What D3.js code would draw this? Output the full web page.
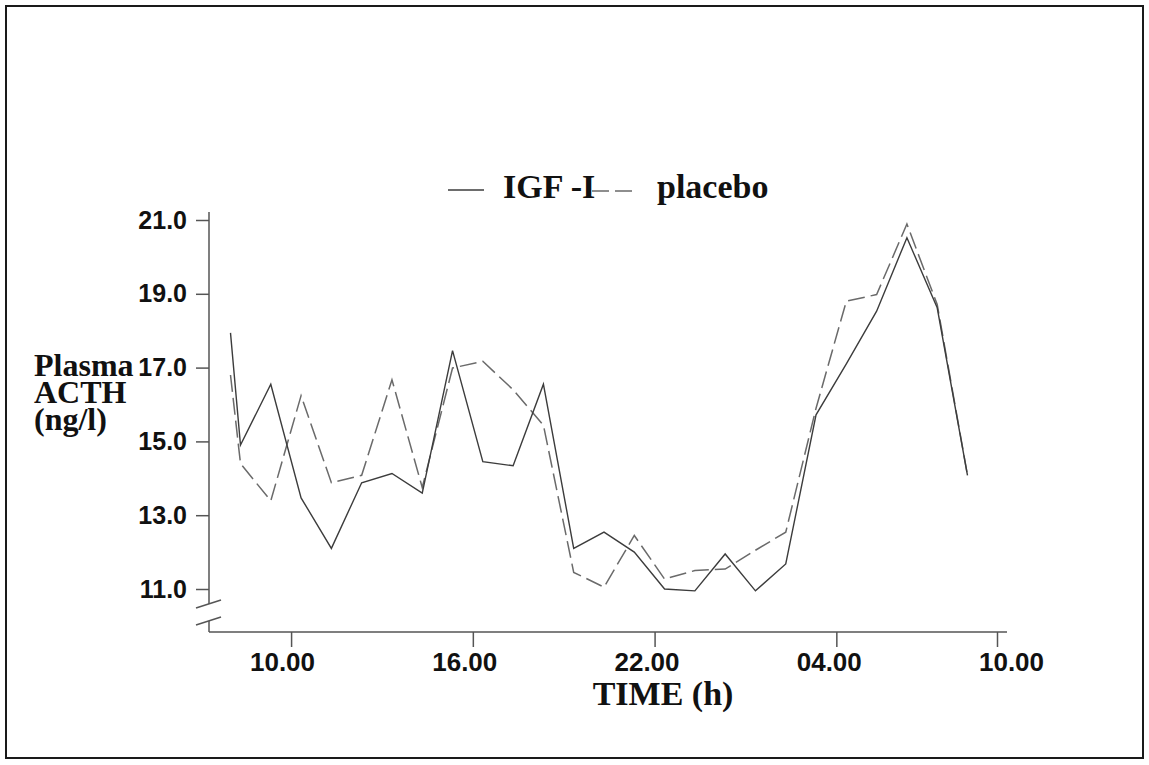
<!DOCTYPE html>
<html><head><meta charset="utf-8">
<script src="https://cdn.jsdelivr.net/npm/d3@7"></script>
<style>html,body{margin:0;padding:0;background:#fff;} svg{display:block}</style>
</head><body>
<script>
// sample times in hours (values > 24 are the next morning)
const sampleTimes = [8.0, 8.33, 9.33, 10.33, 11.33, 12.33, 13.33, 14.33, 15.33, 16.33, 17.33, 18.33, 19.33,
  20.33, 21.33, 22.33, 23.33, 24.33, 25.33, 26.33, 27.33, 28.33, 29.33, 30.33, 31.33, 32.33];
const igfValues = [17.94, 14.9, 16.55, 13.47, 12.1, 13.88, 14.13, 13.6, 17.46, 14.45, 14.34, 16.55, 12.1,
  12.54, 12.0, 11.0, 10.95, 11.95, 10.95, 11.68, 15.72, 17.1, 18.53, 20.52, 18.62, 14.08];
const placeboValues = [16.8, 14.4, 13.39, 16.24, 13.88, 14.08, 16.67, 13.75, 16.99, 17.17, 16.4, 15.44, 11.45,
  11.05, 12.45, 11.27, 11.5, 11.54, 12.05, 12.54, 15.9, 18.8, 18.98, 20.89, 18.71, 14.08];
const seriesNames = ["IGF -I", "placebo"];
const xTickValues = [10, 16, 22, 28, 34];
const xTickLabels = ["10.00", "16.00", "22.00", "04.00", "10.00"];
const yTickValues = [11, 13, 15, 17, 19, 21];
const yTitleLines = ["Plasma", "ACTH", "(ng/l)"];
const xTitle = "TIME (h)";

const W = 1149, H = 765;
const svg = d3.select("body").append("svg").attr("width", W).attr("height", H);

svg.append("rect").attr("x", 6).attr("y", 6).attr("width", 1137).attr("height", 752)
  .attr("fill", "none").attr("stroke", "#1a1a1a").attr("stroke-width", 2);

const x = d3.scaleLinear().domain([8, 32.33, 34]).range([230.5, 967.5, 997]);
// tick labels in the original sit on an evenly spaced grid, slightly off the tick marks
const xLabel = d3.scaleLinear().domain([10, 34]).range([282, 1011]);
const y = d3.scaleLinear().domain([11, 21]).range([589, 220]);
const axisX0 = 209, axisX1 = 1007, axisY0 = 632, axisYTop = 212;
const axisColor = "#555";
const sansFont = "'Liberation Sans', Arial, sans-serif";
const serifFont = "'Liberation Serif', 'Times New Roman', serif";

// Y axis
const gy = svg.append("g").attr("transform", `translate(${axisX0},0)`)
  .call(d3.axisLeft(y).tickValues(yTickValues).tickSize(13).tickPadding(9).tickFormat(d3.format(".1f")));
gy.select(".domain").remove();
gy.selectAll(".tick line").attr("stroke", axisColor).attr("stroke-width", 1.5);
gy.selectAll(".tick text").attr("font-family", sansFont).attr("font-weight", "bold")
  .attr("font-size", 25).attr("fill", "#111");
// axis line with break
svg.append("line").attr("x1", axisX0).attr("x2", axisX0).attr("y1", axisYTop).attr("y2", 604)
  .attr("stroke", axisColor).attr("stroke-width", 1.5);
svg.append("line").attr("x1", axisX0).attr("x2", axisX0).attr("y1", 621).attr("y2", axisY0)
  .attr("stroke", axisColor).attr("stroke-width", 1.5);
[604, 621].forEach(cy => {
  svg.append("line").attr("x1", axisX0 - 13).attr("x2", axisX0 + 12)
    .attr("y1", cy + 4).attr("y2", cy - 4).attr("stroke", axisColor).attr("stroke-width", 1.5);
});

// X axis
const gx = svg.append("g").attr("transform", `translate(0,${axisY0})`)
  .call(d3.axisBottom(x).tickValues(xTickValues).tickSize(15).tickPadding(6)
    .tickFormat((d, i) => xTickLabels[i]));
gx.select(".domain").remove();
gx.selectAll(".tick line").attr("stroke", axisColor).attr("stroke-width", 1.5);
gx.selectAll(".tick text").attr("font-family", sansFont).attr("font-weight", "bold")
  .attr("font-size", 26).attr("fill", "#111")
  .attr("x", d => xLabel(d) - x(d));
svg.append("line").attr("x1", axisX0).attr("x2", axisX1).attr("y1", axisY0).attr("y2", axisY0)
  .attr("stroke", axisColor).attr("stroke-width", 1.5);

// Titles
svg.append("text").attr("x", 663).attr("y", 705).attr("text-anchor", "middle")
  .attr("font-family", serifFont).attr("font-weight", "bold").attr("font-size", 34).attr("fill", "#111")
  .text(xTitle);
yTitleLines.forEach((t, i) => {
  svg.append("text").attr("x", 34).attr("y", 376 + i * 27)
    .attr("font-family", serifFont).attr("font-weight", "bold").attr("font-size", 32).attr("fill", "#111")
    .text(t);
});

// Lines
const line = d3.line().x((d, i) => x(sampleTimes[i])).y(d => y(d));
svg.append("path").datum(placeboValues).attr("d", line).attr("fill", "none")
  .attr("stroke", "#6a6a6a").attr("stroke-width", 1.5).attr("stroke-dasharray", "17,6");
svg.append("path").datum(igfValues).attr("d", line).attr("fill", "none")
  .attr("stroke", "#3c3c3c").attr("stroke-width", 1.4);

// Legend
const lg = svg.append("g");
lg.append("line").attr("x1", 448).attr("x2", 484).attr("y1", 190).attr("y2", 190)
  .attr("stroke", "#3c3c3c").attr("stroke-width", 1.5);
lg.append("text").attr("x", 503).attr("y", 198).attr("font-family", serifFont).attr("font-weight", "bold")
  .attr("font-size", 34).attr("fill", "#111").text(seriesNames[0]);
lg.append("line").attr("x1", 592).attr("x2", 634).attr("y1", 191).attr("y2", 191)
  .attr("stroke", "#6a6a6a").attr("stroke-width", 1.5).attr("stroke-dasharray", "17,6");
lg.append("text").attr("x", 657).attr("y", 198).attr("font-family", serifFont).attr("font-weight", "bold")
  .attr("font-size", 34).attr("fill", "#111").text(seriesNames[1]);
</script>
</body></html>
